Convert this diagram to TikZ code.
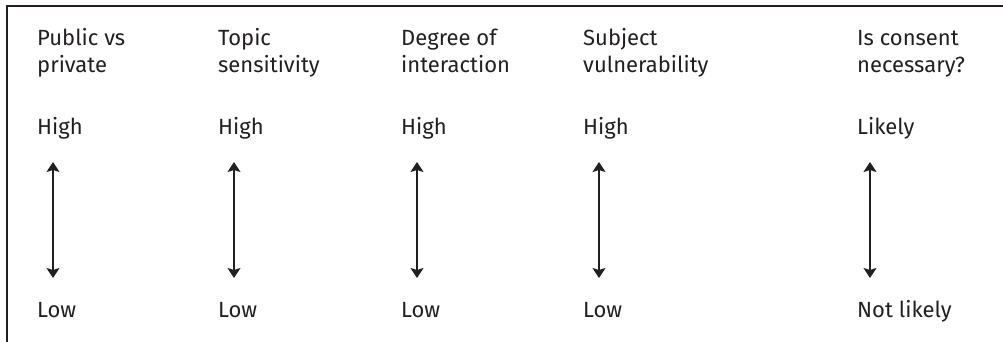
\documentclass[tikz,border=0pt]{standalone}
\usepackage{fontspec}
\setmainfont{Fira Sans}
\usetikzlibrary{arrows.meta}
\definecolor{ink}{HTML}{231F20}
\tikzset{
  lbl/.style={anchor=base west, inner sep=0pt, align=left, text=ink,
    font=\fontsize{22}{27}\selectfont},
  dblarrow/.style={{Stealth[length=10pt,width=13pt,inset=2pt]}-{Stealth[length=10pt,width=13pt,inset=2pt]},
    line width=1.5pt, draw=ink},
  frame/.style={line width=2.2pt, draw=ink}
}
\begin{document}
\begin{tikzpicture}[x=1pt,y=-1pt]
\useasboundingbox (0,0) rectangle (1003,342);
\draw[frame] (7,342) -- (7,6) -- (1003,6);
% headings (base anchor = baseline of last line)
\node[lbl] (h1) at (37,73) {Public vs\\private};
\node[lbl] (h2) at (218,73) {Topic\\sensitivity};
\node[lbl] (h3) at (401,73) {Degree of\\interaction};
\node[lbl] (h4) at (583,73) {Subject\\vulnerability};
\node[lbl] (h5) at (857,73) {Is consent\\necessary?};
% high
\node[lbl] (t1) at (37,135) {High};
\node[lbl] (t2) at (218,135) {High};
\node[lbl] (t3) at (401,135) {High};
\node[lbl] (t4) at (583,135) {High};
\node[lbl] (t5) at (857,135) {Likely};
% low
\node[lbl] (b1) at (37,317) {Low};
\node[lbl] (b2) at (218,317) {Low};
\node[lbl] (b3) at (401,317) {Low};
\node[lbl] (b4) at (583,317) {Low};
\node[lbl] (b5) at (857,317) {Not likely};
% arrows
\foreach \i/\x in {1/53,2/234,3/417,4/599,5/870}{
  \coordinate (u\i) at (\x,162);
  \coordinate (d\i) at (\x,278);
  \draw[dblarrow] (u\i) -- (d\i);
}
\end{tikzpicture}
\end{document}
